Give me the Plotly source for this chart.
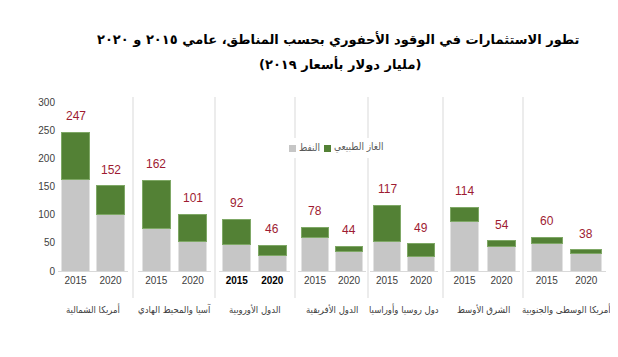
import plotly.graph_objects as go
from plotly.subplots import make_subplots

# ---- data ----
regions = ["أمريكا الشمالية", "آسيا والمحيط الهادي", "الدول الأوروبية", "الدول الأفريقية",
           "دول روسيا وأوراسيا", "الشرق الأوسط", "أمريكا الوسطى والجنوبية"]
years = ["2015", "2020"]
oil = [[163, 100], [75, 53], [48, 27], [60, 34], [52, 25], [88, 43], [49, 32]]
gas = [[84, 52], [87, 48], [44, 19], [18, 10], [65, 24], [26, 11], [11, 6]]
totals = [[247, 152], [162, 101], [92, 46], [78, 44], [117, 49], [114, 54], [60, 38]]
y_ticks = [0, 50, 100, 150, 200, 250, 300]

title_line1 = "تطور الاستثمارات في الوقود الأحفوري بحسب المناطق، عامي ٢٠١٥ و ٢٠٢٠"
title_line2 = "(مليار دولار بأسعار ٢٠١٩)"
oil_name = "النفط"
gas_name = "الغاز الطبيعي"

OIL_C = "#C6C6C6"
GAS_C = "#538135"
LABEL_C = "#9E1B32"
TXT_C = "#404040"
SEP_C = "#D9D9D9"
NARROW = "Liberation Sans Narrow, Arial Narrow, sans-serif"
ARAB = "DejaVu Sans Condensed, DejaVu Sans, sans-serif"

# page has an 8px body margin -> figure is drawn at (8, 8)
OFF = 8
W, H = 618 - OFF, 357 - OFF
REF_L, REF_R, REF_T, REF_B = 58, 606, 97, 271   # plot area in reference pixels
ML, MT = REF_L - OFF, REF_T - OFF
MR, MB = W - (REF_R - OFF), H - (REF_B - OFF)
PW = REF_R - REF_L
PH = REF_B - REF_T


def px(x):
    return (x - REF_L) / PW


def py(y):
    return (REF_B - y) / PH


# panel pixel extents (layout only)
panel_px = [(58, 128), (138, 211), (219, 290), (298, 366), (370, 438), (446, 520), (527, 606)]
sep_px = [133, 215, 295, 368, 443, 523]

n = len(regions)
fig = make_subplots(rows=1, cols=n, shared_yaxes=True, horizontal_spacing=0.01)

for i in range(n):
    fig.add_trace(go.Bar(x=years, y=oil[i], name=oil_name,
                         marker=dict(color=OIL_C, line=dict(color="#E2E2E2", width=1)),
                         showlegend=False), row=1, col=i + 1)
    fig.add_trace(go.Bar(x=years, y=gas[i], name=gas_name,
                         marker=dict(color=GAS_C, line=dict(color="#7FA866", width=1)),
                         showlegend=False), row=1, col=i + 1)

annotations = []
shapes = []
for i in range(n):
    ax = "" if i == 0 else str(i + 1)
    x0, x1 = panel_px[i]
    bold = (i == 2)
    fig.update_xaxes(
        type="category", categoryorder="array", categoryarray=years,
        domain=[px(x0), px(x1)],
        showline=True, linecolor=SEP_C, linewidth=1, ticks="", showgrid=False,
        tickfont=dict(size=10, color="#000" if bold else TXT_C, family=NARROW,
                      weight="bold" if bold else "normal"),
        fixedrange=True, row=1, col=i + 1)
    for j, yr in enumerate(years):
        annotations.append(dict(x=j, y=totals[i][j], xref="x" + ax, yref="y" + ax, text=str(totals[i][j]),
                                showarrow=False, yshift=16,
                                font=dict(size=12, color=LABEL_C, family=NARROW)))
    annotations.append(dict(x=0.5, xref="x" + ax + " domain", y=py(309), yref="paper", text=regions[i],
                            showarrow=False, yanchor="middle",
                            font=dict(size=9.5, color=TXT_C, family=ARAB)))

for s in sep_px:
    shapes.append(dict(type="line", xref="paper", yref="paper", x0=px(s), x1=px(s),
                       y0=py(298), y1=1.0, line=dict(color=SEP_C, width=1)))

# legend (drawn compactly, like the reference)
shapes.append(dict(type="rect", xref="paper", yref="paper", x0=px(286), x1=px(380), y0=py(158), y1=py(138),
                   fillcolor="white", line=dict(width=0)))
shapes.append(dict(type="rect", xref="paper", yref="paper", x0=px(289), x1=px(296), y0=py(152), y1=py(145),
                   fillcolor=OIL_C, line=dict(width=0)))
shapes.append(dict(type="rect", xref="paper", yref="paper", x0=px(324), x1=px(331), y0=py(152), y1=py(145),
                   fillcolor=GAS_C, line=dict(width=0)))
annotations.append(dict(x=px(297), xref="paper", y=py(147), yref="paper", text=oil_name, showarrow=False,
                        xanchor="left", yanchor="middle", font=dict(size=10, color="#595959", family=ARAB)))
annotations.append(dict(x=px(332), xref="paper", y=py(147), yref="paper", text=gas_name, showarrow=False,
                        xanchor="left", yanchor="middle", font=dict(size=10, color="#595959", family=ARAB)))

annotations.append(dict(x=px(338), xref="paper", y=py(39), yref="paper",
                        text="<b>" + title_line1 + "</b>", showarrow=False, yanchor="middle",
                        font=dict(size=13, color="#000", family="DejaVu Sans, sans-serif")))
annotations.append(dict(x=px(340), xref="paper", y=py(64), yref="paper",
                        text="<b>" + title_line2 + "</b>", showarrow=False, yanchor="middle",
                        font=dict(size=13, color="#000", family="DejaVu Sans, sans-serif")))

fig.update_yaxes(range=[0, 310], showgrid=False, zeroline=False, showline=False, fixedrange=True)
fig.update_yaxes(tickvals=y_ticks, ticks="", ticklabelstandoff=2,
                 tickfont=dict(size=10, color=TXT_C, family=NARROW), row=1, col=1)

fig.update_layout(
    width=W, height=H, barmode="stack", bargap=0.22,
    margin=dict(l=ML, r=MR, t=MT, b=MB),
    paper_bgcolor="white", plot_bgcolor="white",
    annotations=annotations, shapes=shapes,
    showlegend=False,
)

fig.write_html("out.html")
